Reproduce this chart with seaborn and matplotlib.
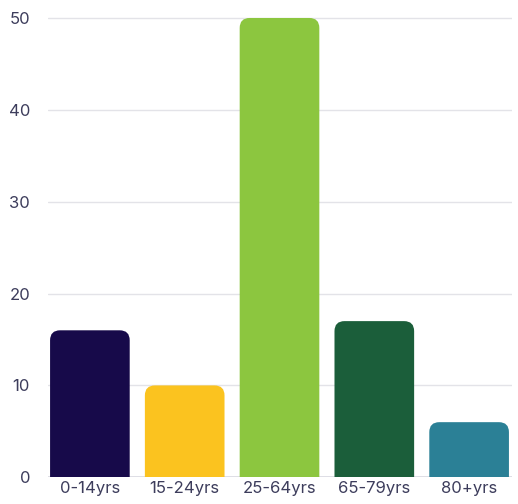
import seaborn as sns
import matplotlib.pyplot as plt
import pandas as pd
from matplotlib.path import Path
from matplotlib.patches import PathPatch

grupos = ["0-14yrs", "15-24yrs", "25-64yrs", "65-79yrs", "80+yrs"]
valores = [16, 10, 50, 17, 6]
cores = ["#170a4a", "#fbc31f", "#8cc63f", "#1b5e3a", "#2b8096"]

df = pd.DataFrame({"grupo": grupos, "valor": valores})

sns.set_style("white")
plt.rcParams["font.family"] = ["Inter", "DejaVu Sans"]

fig = plt.figure(figsize=(5.18, 5.04), dpi=100)
ax = fig.add_axes([0.093, 0.053, 0.895, 0.915])
sns.barplot(data=df, x="grupo", y="valor", hue="grupo", palette=cores,
            width=0.84, legend=False, ax=ax, saturation=1)

ax.set_ylim(0, 50.2)
ax.set_xlim(-0.44, 4.45)
ax.set_yticks(range(0, 51, 10))
ax.yaxis.grid(True, color="#e3e3e8", linewidth=1)
ax.set_axisbelow(True)
ax.axhline(0, color="#d8d8e0", linewidth=1.2, zorder=0.5)
for s in ax.spines.values():
    s.set_visible(False)
ax.set_xlabel("")
ax.set_ylabel("")
ax.tick_params(axis="both", length=0, labelsize=12, labelcolor="#3d3d5c")
ax.tick_params(axis="y", pad=13)
ax.tick_params(axis="x", pad=3)

# cantos arredondados no topo
fig.canvas.draw()
tr = ax.transData
px_x = tr.transform((1, 0))[0] - tr.transform((0, 0))[0]
px_y = tr.transform((0, 1))[1] - tr.transform((0, 0))[1]
rx, ry = 10 / px_x, 10 / px_y
for p in list(ax.patches):
    x0, y0 = p.get_x(), p.get_y()
    w, h = p.get_width(), p.get_height()
    cor = p.get_facecolor()
    p.remove()
    x1, y1 = x0 + w, y0 + h
    verts = [(x0, y0), (x0, y1 - ry), (x0, y1), (x0 + rx, y1),
             (x1 - rx, y1), (x1, y1), (x1, y1 - ry), (x1, y0), (x0, y0)]
    codes = [Path.MOVETO, Path.LINETO, Path.CURVE3, Path.CURVE3,
             Path.LINETO, Path.CURVE3, Path.CURVE3, Path.LINETO, Path.CLOSEPOLY]
    ax.add_patch(PathPatch(Path(verts, codes), facecolor=cor, edgecolor="none", zorder=2))

plt.savefig("out.png", dpi=100)
